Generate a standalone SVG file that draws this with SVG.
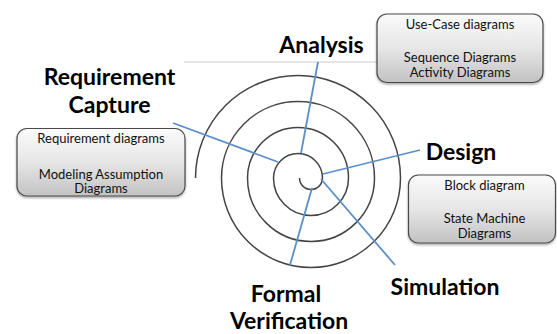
<svg xmlns="http://www.w3.org/2000/svg" width="557" height="334" viewBox="0 0 557 334">
<defs>
<linearGradient id="boxg" x1="0" y1="0" x2="0" y2="1">
<stop offset="0" stop-color="#fbfbfb"/>
<stop offset="0.5" stop-color="#e6e6e6"/>
<stop offset="1" stop-color="#c2c2c2"/>
</linearGradient>
<filter id="sh" x="-10%" y="-10%" width="120%" height="130%">
<feDropShadow dx="0" dy="1.5" stdDeviation="1.2" flood-color="#000" flood-opacity="0.35"/>
</filter>
</defs>
<style>
.box{fill:url(#boxg);stroke:#4a4a4a;stroke-width:1.2;filter:url(#sh)}
.bt{font-family:Lato,"Liberation Sans",sans-serif;font-size:13px;fill:#111;text-anchor:middle}
.lbl{font-family:Lato,"Liberation Sans",sans-serif;font-size:23px;font-weight:bold;fill:#000;text-anchor:middle}
.conn{stroke:#5b8fc9;stroke-width:1.8;fill:none}
.spiral{stroke:#444;stroke-width:1.5;fill:none}
</style>
<rect width="557" height="334" fill="#fff"/>
<line x1="184" y1="62" x2="377" y2="62" stroke="#dcdcdc" stroke-width="1.5"/>
<g id="spiral">
<path class="spiral" d="M299.5,178 A11.5,11.5 0 0 0 322.5,178 A24.5,24.5 0 0 0 273.5,178 A37.5,37.5 0 0 0 348.5,178 A50.5,50.5 0 0 0 247.5,178 A63.5,63.5 0 0 0 374.5,178 A76.5,76.5 0 0 0 221.5,178 A89.5,89.5 0 0 0 400.5,178 A102.5,102.5 0 0 0 195.5,178"/>
</g>
<g id="connectors">
<line class="conn" x1="318" y1="62" x2="301" y2="153"/>
<line class="conn" x1="173" y1="123" x2="278" y2="162"/>
<line class="conn" x1="420" y1="150" x2="323" y2="174"/>
<line class="conn" x1="321" y1="179" x2="395" y2="265"/>
<line class="conn" x1="312" y1="188" x2="290" y2="265"/>
</g>
<g id="analysis"><text class="lbl" x="321.5" y="53">Analysis</text></g>
<g id="requirement-capture"><text class="lbl" x="109.5" y="85">Requirement</text><text class="lbl" x="109.5" y="113">Capture</text></g>
<g id="design"><text class="lbl" x="461" y="159.5">Design</text></g>
<g id="simulation"><text class="lbl" x="445" y="295">Simulation</text></g>
<g id="formal-verification"><text class="lbl" x="286" y="301.5">Formal</text><text class="lbl" x="289" y="328.5">Verification</text></g>
<g id="box-analysis">
<rect class="box" x="377" y="14" width="166" height="68.5" rx="10"/>
<text class="bt" x="460" y="28.5">Use-Case diagrams</text>
<text class="bt" x="460" y="62">Sequence Diagrams</text>
<text class="bt" x="460" y="76.5">Activity Diagrams</text>
</g>
<g id="box-requirement">
<rect class="box" x="17" y="128.5" width="168" height="67.5" rx="10"/>
<text class="bt" x="101" y="143">Requirement diagrams</text>
<text class="bt" x="101" y="178.5">Modeling Assumption</text>
<text class="bt" x="101" y="193">Diagrams</text>
</g>
<g id="box-design">
<rect class="box" x="408.5" y="175" width="147" height="68" rx="10"/>
<text class="bt" x="484.5" y="189.5">Block diagram</text>
<text class="bt" x="484.5" y="223">State Machine</text>
<text class="bt" x="484.5" y="237.5">Diagrams</text>
</g>
</svg>
